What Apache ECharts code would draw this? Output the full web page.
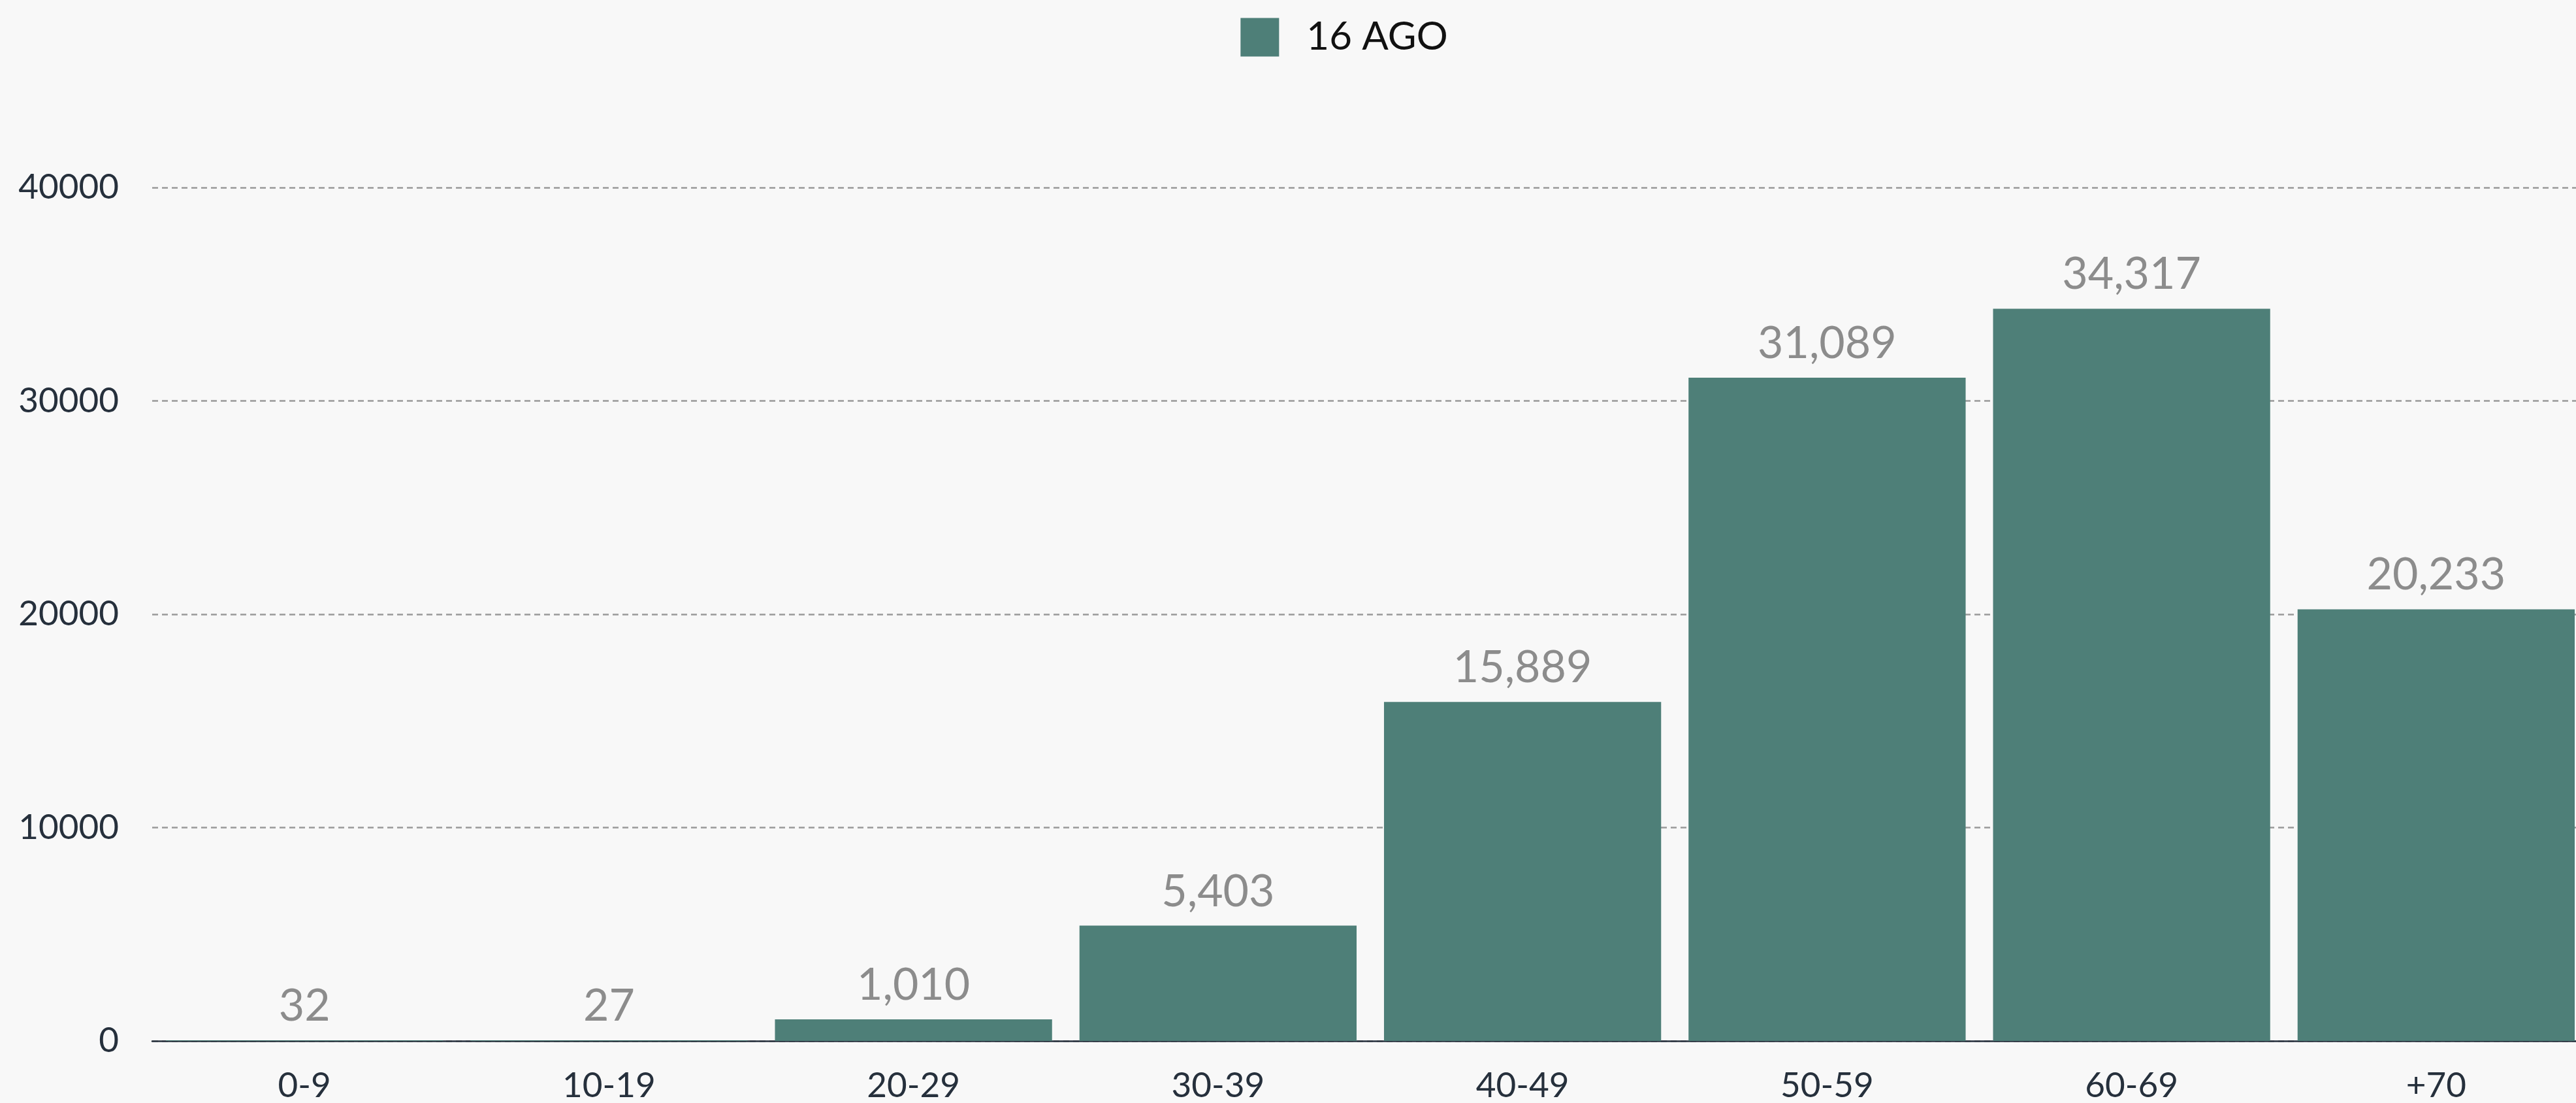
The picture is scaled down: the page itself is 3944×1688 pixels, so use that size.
<!DOCTYPE html>
<html>
<head>
<meta charset="utf-8">
<script src="https://cdn.jsdelivr.net/npm/echarts@6/dist/echarts.min.js"></script>
<style>
  html, body { margin: 0; padding: 0; background: #f8f8f8; overflow: hidden; }
  #chart { width: 4116px; height: 1688px; }
</style>
</head>
<body>
<div id="chart"></div>
<script>
// fasce d'età
const categories = ['0-9', '10-19', '20-29', '30-39', '40-49', '50-59', '60-69', '+70'];
const seriesName = '16 AGO';
const values = [32, 27, 1010, 5403, 15889, 31089, 34317, 20233];
const yTicks = [0, 10000, 20000, 30000, 40000];

const barColor = '#4e7f78';
const axisColor = '#26303c';
const font = 'Lato, "Open Sans", sans-serif';

const chart = echarts.init(document.getElementById('chart'));
chart.setOption({
  backgroundColor: '#f8f8f8',
  animation: false,
  textStyle: { fontFamily: font },
  legend: {
    data: [seriesName],
    top: 22,
    left: 'center',
    icon: 'rect',
    itemWidth: 59,
    itemHeight: 59,
    textStyle: {
      color: '#111',
      fontSize: 60,
      fontFamily: font,
      padding: [0, 0, 0, 37]
    }
  },
  grid: {
    left: 233,
    right: 153,
    top: 287,
    bottom: 89
  },
  xAxis: {
    type: 'category',
    data: categories,
    axisLine: { lineStyle: { color: axisColor, width: 2.5 } },
    axisTick: { show: false },
    axisLabel: { color: axisColor, fontSize: 53, margin: 42 }
  },
  yAxis: {
    type: 'value',
    min: yTicks[0],
    max: yTicks[yTicks.length - 1],
    interval: 10000,
    axisLine: { show: false },
    axisTick: { show: false },
    axisLabel: { color: axisColor, fontSize: 53, margin: 51, formatter: v => String(v) },
    splitLine: {
      lineStyle: { color: '#999', type: [9, 6], width: 2.5 }
    }
  },
  series: [{
    name: seriesName,
    type: 'bar',
    data: values,
    barCategoryGap: '9%',
    itemStyle: { color: barColor },
    label: {
      show: true,
      position: 'top',
      distance: 18,
      color: '#8c8c8c',
      fontSize: 68,
      fontFamily: font,
      formatter: p => p.value.toLocaleString('en-US')
    }
  }]
});
</script>
</body>
</html>
